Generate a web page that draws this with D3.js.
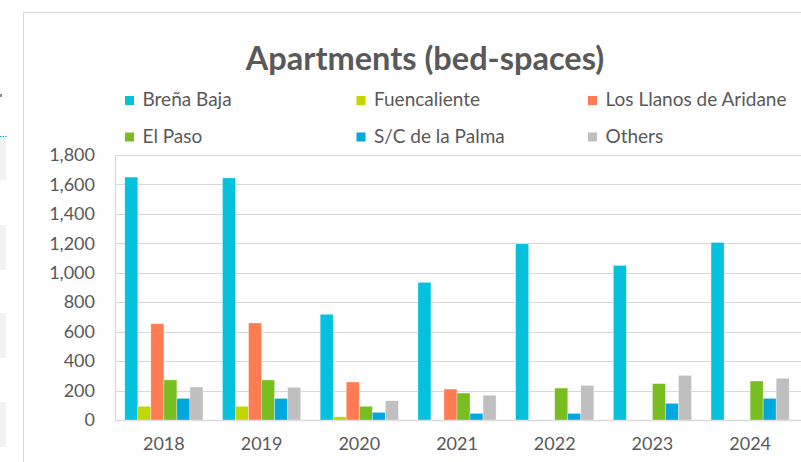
<!DOCTYPE html>
<html>
<head>
<meta charset="utf-8">
<script src="https://cdn.jsdelivr.net/npm/d3@7"></script>
<style>
  html, body { margin: 0; padding: 0; background: #fff; }
  svg { display: block; font-family: Lato, "Open Sans", sans-serif; }
</style>
</head>
<body>
<div id="chart"></div>
<script>
// Apartments (bed-spaces) by municipality, 2018-2024
const years = ["2018", "2019", "2020", "2021", "2022", "2023", "2024"];
const seriesNames = ["Breña Baja", "Fuencaliente", "Los Llanos de Aridane", "El Paso", "S/C de la Palma", "Others"];
const seriesColors = ["#05c1de", "#c4d600", "#ff7b53", "#78be20", "#00a8df", "#bfbfbf"];

const brenaBaja  = [1650, 1644, 718, 935, 1197, 1050, 1206];
const fuencaliente = [93, 93, 22, 0, 0, 0, 0];
const losLlanos  = [654, 659, 258, 210, 0, 0, 0];
const elPaso     = [272, 272, 93, 183, 217, 247, 265];
const sCPalma    = [147, 147, 52, 45, 45, 113, 147];
const others     = [224, 222, 131, 168, 235, 303, 283];

const yTicks = [0, 200, 400, 600, 800, 1000, 1200, 1400, 1600, 1800];

const allSeries = [brenaBaja, fuencaliente, losLlanos, elPaso, sCPalma, others];
const data = years.map((y, i) => ({
  year: y,
  values: seriesNames.map((name, s) => ({ name, s, value: allSeries[s][i] }))
}));

const width = 801, height = 462;
const plot = { left: 115, right: 799, top: 155, bottom: 420 };

const svg = d3.select("#chart").append("svg")
  .attr("width", width)
  .attr("height", height);

// bits of the page behind the chart
const deco = svg.append("g");
[[138, 180], [225, 270], [313, 358], [402, 447]].forEach(([a, b]) => {
  deco.append("rect").attr("x", 0).attr("y", a).attr("width", 6).attr("height", b - a).attr("fill", "#f2f2f2");
});
deco.append("line")
  .attr("x1", 0).attr("x2", 7).attr("y1", 136.5).attr("y2", 136.5)
  .attr("stroke", "#1aa3dc").attr("stroke-width", 1.2).attr("stroke-dasharray", "1.5,1");
deco.append("rect").attr("x", 0).attr("y", 94).attr("width", 2).attr("height", 3).attr("fill", "#8c8c8c");

// chart frame
svg.append("path")
  .attr("d", `M23.5,${height}V12.5H${width}`)
  .attr("fill", "none")
  .attr("stroke", "#d9d9d9")
  .attr("stroke-width", 1);

// title
svg.append("text")
  .attr("x", 425)
  .attr("y", 70)
  .attr("text-anchor", "middle")
  .attr("font-size", "32.5px")
  .attr("font-weight", "bold")
  .attr("fill", "#595959")
  .text("Apartments (bed-spaces)");

// legend
const legendCols = [125, 356.5, 588];
const legendRows = [100.5, 137];
const legend = svg.append("g").selectAll("g")
  .data(seriesNames)
  .join("g")
  .attr("transform", (_, i) => `translate(${legendCols[i % 3]},${legendRows[Math.floor(i / 3)]})`);
legend.append("rect")
  .attr("x", 0).attr("y", -4.5)
  .attr("width", 9).attr("height", 9)
  .attr("fill", (_, i) => seriesColors[i]);
legend.append("text")
  .attr("x", 17.5)
  .attr("y", -1)
  .attr("dy", "0.35em")
  .attr("font-size", "19px")
  .attr("fill", "#595959")
  .text(d => d);

// scales
const x0 = d3.scaleBand().domain(years).range([plot.left, plot.right]).paddingInner(0.2).paddingOuter(0.1);
const x1 = d3.scaleBand().domain(seriesNames).range([0, x0.bandwidth()]);
const y = d3.scaleLinear().domain([0, 1800]).range([plot.bottom, plot.top]);

// gridlines
svg.append("g")
  .selectAll("line")
  .data(yTicks)
  .join("line")
  .attr("x1", plot.left).attr("x2", width)
  .attr("y1", d => Math.round(y(d)) + 0.5)
  .attr("y2", d => Math.round(y(d)) + 0.5)
  .attr("stroke", "#d9d9d9")
  .attr("stroke-width", d => d === 0 ? 1.5 : 1.2);

svg.append("line")
  .attr("x1", plot.left + 0.5).attr("x2", plot.left + 0.5)
  .attr("y1", plot.top).attr("y2", plot.bottom)
  .attr("stroke", "#d9d9d9")
  .attr("stroke-width", 1.2);

// y axis
const yAxis = svg.append("g")
  .attr("transform", `translate(${plot.left},0)`)
  .call(d3.axisLeft(y).tickValues(yTicks).tickSize(0).tickPadding(20).tickFormat(d3.format(",")));
yAxis.select(".domain").remove();
yAxis.selectAll("text").attr("font-size", "18px").attr("fill", "#595959").attr("font-family", "Lato, sans-serif");

// x axis
const xAxis = svg.append("g")
  .attr("transform", `translate(0,${plot.bottom})`)
  .call(d3.axisBottom(x0).tickSize(0).tickPadding(17));
xAxis.select(".domain").remove();
xAxis.selectAll("text").attr("font-size", "18px").attr("fill", "#595959").attr("font-family", "Lato, sans-serif");

// bars
svg.append("g")
  .selectAll("g")
  .data(data)
  .join("g")
  .attr("transform", d => `translate(${x0(d.year)},0)`)
  .selectAll("rect")
  .data(d => d.values.filter(v => v.value > 0))
  .join("rect")
  .attr("x", d => x1(d.name))
  .attr("width", x1.bandwidth())
  .attr("y", d => y(d.value))
  .attr("height", d => y(0) - y(d.value))
  .attr("fill", d => seriesColors[d.s])
  .attr("stroke", "#ffffff")
  .attr("stroke-opacity", 0.45)
  .attr("stroke-width", 0.75);
</script>
</body>
</html>
